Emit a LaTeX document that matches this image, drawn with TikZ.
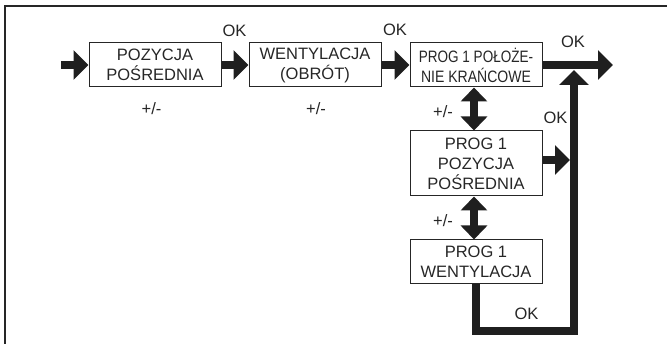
\documentclass[tikz,border=0pt]{standalone}
\usepackage{fontspec}
\setmainfont{Liberation Sans}
\usetikzlibrary{arrows.meta}
\begin{document}
\begin{tikzpicture}[x=1pt,y=-1pt,
  box/.style={draw=black!85, line width=1pt, minimum width=132pt, inner sep=0pt, align=center, text=black!85, font=\fontsize{16.5}{20}\selectfont},
  lbl/.style={text=black!85, font=\fontsize{16.5}{18}\selectfont, inner sep=0pt},
  fat/.style={line width=8pt, draw=black!88, miter limit=10, -{Triangle[length=15pt,width=29pt]}},
  dbl/.style={line width=8pt, draw=black!88, {Triangle[length=14pt,width=26pt]}-{Triangle[length=14pt,width=26pt]}},
]
\useasboundingbox (0,0) rectangle (667,344);
\draw[line width=1.5pt, black!85] (5,344) -- (5,6) -- (667,6);

\node[box, minimum height=44pt] (b1) at (155,65) {POZYCJA\\POŚREDNIA};
\node[box, minimum height=44pt] (b2) at (315,65) {WENTYLACJA\\(OBRÓT)};
\node[box, minimum height=44pt] (b3) at (476,65) {\scalebox{0.82}[1]{PROG 1 POŁOŻE-}\\\scalebox{0.85}[1]{NIE KRAŃCOWE}};
\node[box, minimum height=65pt] (b4) at (476,163.5) {PROG 1\\POZYCJA\\POŚREDNIA};
\node[box, minimum height=44pt] (b5) at (476,262) {PROG 1\\WENTYLACJA};

\coordinate (s) at (61,65);
\coordinate (e) at (613,65);
\coordinate (m4) at (570,160);
\coordinate (c1) at (476,331);
\coordinate (c2) at (574,331);
\coordinate (t) at (574,70);

\draw[fat] (s) -- (b1.west);
\draw[fat] (b1.east) -- (b2.west);
\draw[fat] (b2.east) -- (b3.west);
\draw[fat] (b3.east) -- (e);
\draw[fat] ([yshift=3.5pt]b4.east) -- (m4);
\draw[fat] (b5.south) -- (c1) -- (c2) -- (t);
\draw[dbl] ([xshift=-2pt]b3.south) -- ([xshift=-2pt]b4.north);
\draw[dbl] ([xshift=-2pt]b4.south) -- ([xshift=-2pt]b5.north);

\node[lbl] (ok1) at (234.5,30.5) {OK};
\node[lbl] (ok2) at (395,30) {OK};
\node[lbl] (ok3) at (573,42) {OK};
\node[lbl] (ok4) at (555.5,117.5) {OK};
\node[lbl] (ok5) at (526.5,313.5) {OK};
\node[lbl] (pm1) at (151.5,108.5) {+/-};
\node[lbl] (pm2) at (316,108.5) {+/-};
\node[lbl] (pm3) at (443,111.5) {+/-};
\node[lbl] (pm4) at (443,220.5) {+/-};
\end{tikzpicture}
\end{document}
